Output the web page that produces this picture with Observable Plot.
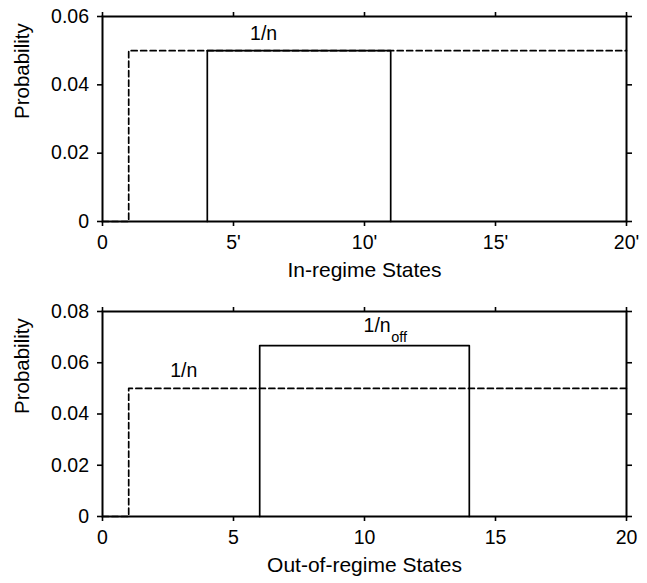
<!DOCTYPE html>
<html>
<head>
<meta charset="utf-8">
<script src="https://cdn.jsdelivr.net/npm/d3@7"></script>
<script src="https://cdn.jsdelivr.net/npm/@observablehq/plot@0.6"></script>
<style>
  html, body { margin: 0; padding: 0; background: #fff; }
  svg { display: block; }
</style>
</head>
<body>
<div id="chart"></div>
<script>
// ---- data ----
const xTicks = [0, 5, 10, 15, 20];
const topXTickLabels = ["0", "5'", "10'", "15'", "20'"];
const bottomXTickLabels = ["0", "5", "10", "15", "20"];
const topYTicks = [0, 0.02, 0.04, 0.06];
const topYTickLabels = ["0", "0.02", "0.04", "0.06"];
const bottomYTicks = [0, 0.02, 0.04, 0.06, 0.08];
const bottomYTickLabels = ["0", "0.02", "0.04", "0.06", "0.08"];

// uniform distribution over all states (dashed), 1/n
const uniformX = [0, 1, 1, 20];
const uniformY = [0, 0, 0.05, 0.05];
// in-regime states (solid), 1/n
const inRegimeX = [4, 4, 11, 11];
const inRegimeY = [0, 0.05, 0.05, 0];
// out-of-regime states (solid), 1/n_off
const offRegimeX = [6, 6, 14, 14];
const offRegimeY = [0, 0.0667, 0.0667, 0];

// annotations
const topLabel = {x: 6.15, y: 0.055, text: "1/n"};
const bottomLabel = {x: 3.1, y: 0.057, text: "1/n"};
const offLabel = {x: 11.0, y: 0.0743, text: "1/n", sub: "off"};

const font = "Liberation Sans, Arial, Helvetica, sans-serif";
const toPts = (xs, ys) => xs.map((x, i) => ({x, y: ys[i]}));

function panel({height, marginTop, marginBottom, yDomain, yTicks, yLabels, xLabels, xTitle, lines, texts}) {
  return Plot.plot({
    width: 647,
    height,
    marginLeft: 102,
    marginRight: 21,
    marginTop,
    marginBottom,
    style: {fontFamily: font, fontSize: "19.5px", background: "#fff", color: "#000", overflow: "visible"},
    x: {domain: [0, 20]},
    y: {domain: yDomain},
    marks: [
      ...lines,
      Plot.frame({stroke: "#000", strokeWidth: 2}),
      Plot.axisX({anchor: "bottom", ticks: xTicks, tickSize: 5, tickPadding: 8.5, strokeWidth: 1.6, fontSize: 19.5,
        tickFormat: d => xLabels[xTicks.indexOf(d)], label: null}),
      Plot.axisX({anchor: "top", ticks: xTicks, tickSize: 5, strokeWidth: 1.6, tickFormat: () => "", label: null}),
      Plot.axisY({anchor: "left", ticks: yTicks, tickSize: 5, tickPadding: 8.5, strokeWidth: 1.6, fontSize: 19.5,
        tickFormat: d => yLabels[yTicks.indexOf(d)], label: null}),
      Plot.axisY({anchor: "right", ticks: yTicks, tickSize: 5, strokeWidth: 1.6, tickFormat: () => "", label: null}),
      Plot.text([xTitle], {frameAnchor: "bottom", dy: 55, fontSize: 21, fill: "#000"}),
      Plot.text(["Probability"], {frameAnchor: "left", dx: -80, rotate: -90, fontSize: 20.5, fill: "#000"}),
      ...texts
    ]
  });
}

const topPanel = panel({
  height: 290, marginTop: 16, marginBottom: 69,
  yDomain: [0, 0.06], yTicks: topYTicks, yLabels: topYTickLabels, xLabels: topXTickLabels,
  xTitle: "In-regime States",
  lines: [
    Plot.line(toPts(uniformX, uniformY), {x: "x", y: "y", stroke: "#000", strokeWidth: 1.7, strokeDasharray: "6,3.5"}),
    Plot.line(toPts(inRegimeX, inRegimeY), {x: "x", y: "y", stroke: "#000", strokeWidth: 1.7})
  ],
  texts: [
    Plot.text([topLabel], {x: "x", y: "y", text: "text", fontSize: 19.5, fill: "#000"})
  ]
});

const bottomPanel = panel({
  height: 293, marginTop: 21, marginBottom: 67,
  yDomain: [0, 0.08], yTicks: bottomYTicks, yLabels: bottomYTickLabels, xLabels: bottomXTickLabels,
  xTitle: "Out-of-regime States",
  lines: [
    Plot.line(toPts(uniformX, uniformY), {x: "x", y: "y", stroke: "#000", strokeWidth: 1.7, strokeDasharray: "6,3.5"}),
    Plot.line(toPts(offRegimeX, offRegimeY), {x: "x", y: "y", stroke: "#000", strokeWidth: 1.7})
  ],
  texts: [
    Plot.text([bottomLabel], {x: "x", y: "y", text: "text", fontSize: 19.5, fill: "#000"}),
    Plot.text([offLabel], {x: "x", y: "y", text: "text", textAnchor: "end", fontSize: 19.5, fill: "#000"}),
    Plot.text([offLabel], {x: "x", y: "y", text: "sub", textAnchor: "start", dy: 11, dx: 0.5, fontSize: 14.5, fill: "#000"})
  ]
});

const el = document.getElementById("chart");
el.appendChild(topPanel);
el.appendChild(bottomPanel);
</script>
</body>
</html>
